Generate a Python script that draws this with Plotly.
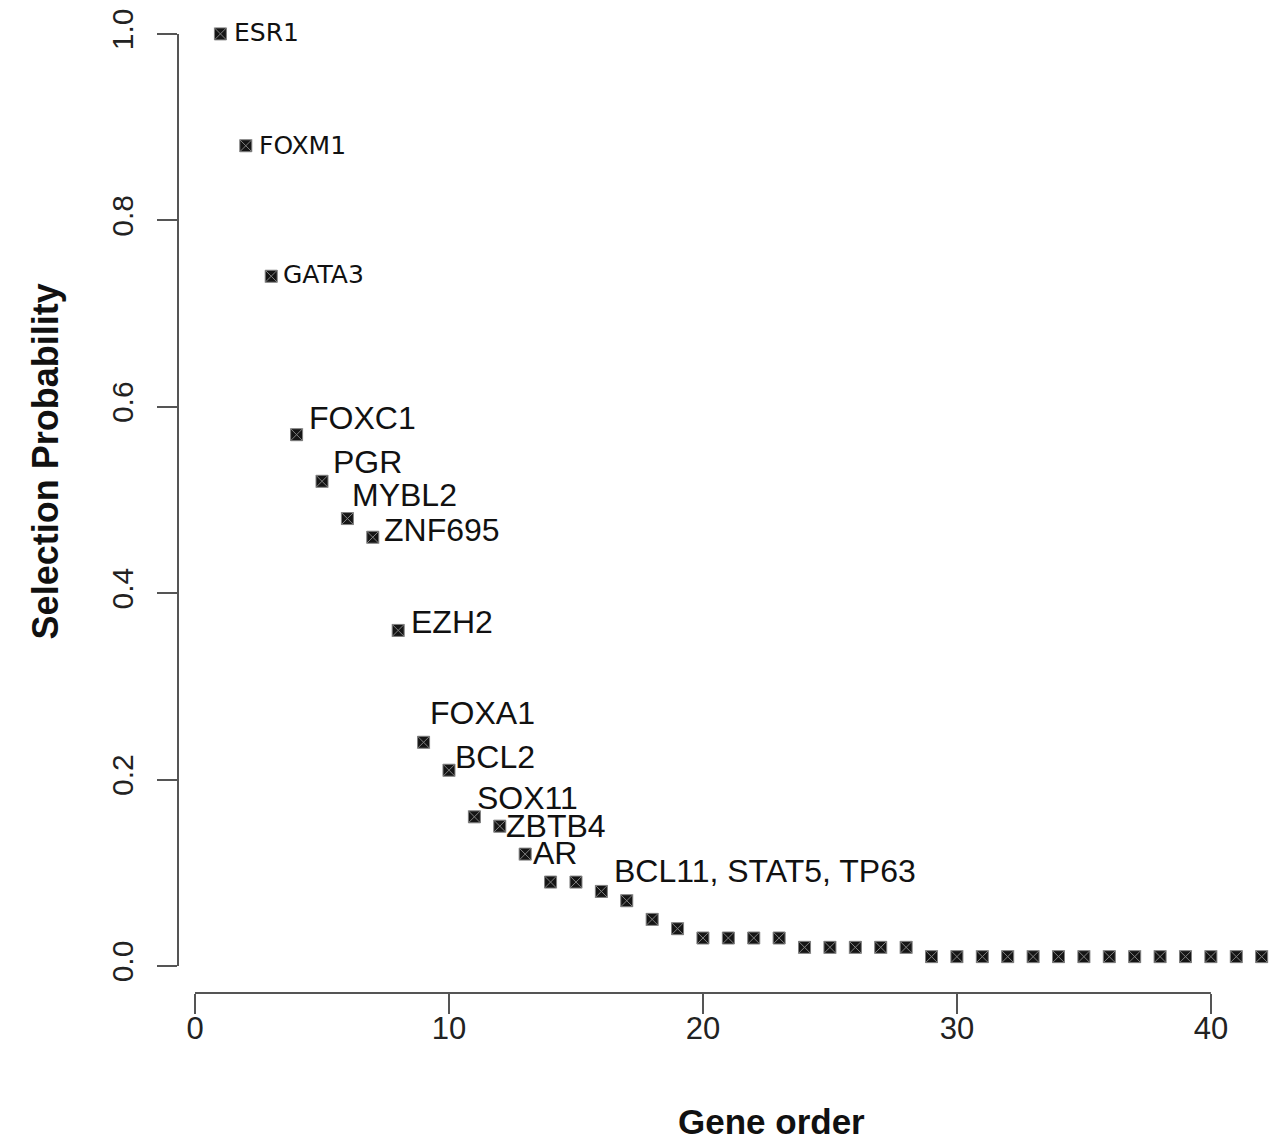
import plotly.graph_objects as go

# ---- data ----
gene_order = list(range(1, 43))
selection_prob = [1.00, 0.88, 0.74, 0.57, 0.52, 0.48, 0.46, 0.36, 0.24, 0.21,
                  0.16, 0.15, 0.12, 0.09, 0.09, 0.08, 0.07, 0.05, 0.04, 0.03,
                  0.03, 0.03, 0.03, 0.02, 0.02, 0.02, 0.02, 0.02, 0.01, 0.01,
                  0.01, 0.01, 0.01, 0.01, 0.01, 0.01, 0.01, 0.01, 0.01, 0.01,
                  0.01, 0.01]
label_index = [1, 2, 3, 4, 5, 6, 7, 8, 9, 10, 11, 12, 13, 16]
label_text = ["ESR1", "FOXM1", "GATA3", "FOXC1", "PGR", "MYBL2", "ZNF695", "EZH2",
              "FOXA1", "BCL2", "SOX11", "ZBTB4", "AR", "BCL11, STAT5, TP63"]
x_ticks = [0, 10, 20, 30, 40]
y_ticks = [0.0, 0.2, 0.4, 0.6, 0.8, 1.0]
y_tick_text = ["0.0", "0.2", "0.4", "0.6", "0.8", "1.0"]

# label offsets in pixels (style)
label_shift = [(12, 1), (11, 0), (10, 2), (10, 17), (9, 19), (3, 24), (9, 7), (11, 8),
               (4, 29), (4, 13), (1, 19), (4, 0), (6, 1), (11, 20)]

AX = "#555555"
FONT = "Liberation Sans, Arial, sans-serif"

fig = go.Figure()
fig.add_trace(go.Scatter(
    x=gene_order, y=selection_prob, mode="markers",
    marker=dict(symbol="square-x", size=12, color="#151515",
                line=dict(color="#808080", width=1)),
    showlegend=False, hoverinfo="x+y"))

for i, (idx, txt) in enumerate(zip(label_index, label_text)):
    dx, dy = label_shift[i]
    small = i < 3
    fig.add_annotation(x=gene_order[idx - 1], y=selection_prob[idx - 1], text=txt,
                       showarrow=False, xanchor="left", yanchor="middle",
                       xshift=dx, yshift=dy,
                       font=dict(family="DejaVu Sans, sans-serif" if small else FONT,
                                 size=25 if small else 32, color="#111111"))

# R-style axis lines spanning tick range only
fig.add_shape(type="line", xref="paper", yref="y", x0=0, x1=0, y0=0, y1=1,
              line=dict(color=AX, width=2))
fig.add_shape(type="line", xref="x", yref="paper", x0=0, x1=40, y0=0, y1=0,
              line=dict(color=AX, width=2))

fig.add_annotation(text="<b>Selection Probability</b>", xref="paper", yref="paper",
                   x=-0.14, y=0.538, textangle=-90, showarrow=False,
                   font=dict(family=FONT, size=36, color="#111111"))
fig.add_annotation(text="<b>Gene order</b>", xref="paper", yref="paper",
                   x=0.538, y=-0.13, showarrow=False, yanchor="middle",
                   font=dict(family=FONT, size=35, color="#111111"))

fig.update_layout(
    width=1282, height=1144,
    margin=dict(l=178, r=0, t=5, b=151),
    plot_bgcolor="white", paper_bgcolor="white",
    xaxis=dict(range=[-0.67, 42.8], tickvals=x_ticks, ticks="outside", ticklen=20,
               tickwidth=2, tickcolor=AX, showgrid=False, zeroline=False,
               showline=False, ticklabelstandoff=-12,
               tickfont=dict(family=FONT, size=31, color="#222222")),
    yaxis=dict(range=[-0.029, 1.031], tickvals=y_ticks, ticktext=y_tick_text,
               ticks="outside", ticklen=20, tickwidth=2, tickcolor=AX,
               tickangle=-90, showgrid=False, zeroline=False, showline=False,
               ticklabelstandoff=12,
               tickfont=dict(family=FONT, size=30, color="#222222")),
)

fig.write_html("out.html")
